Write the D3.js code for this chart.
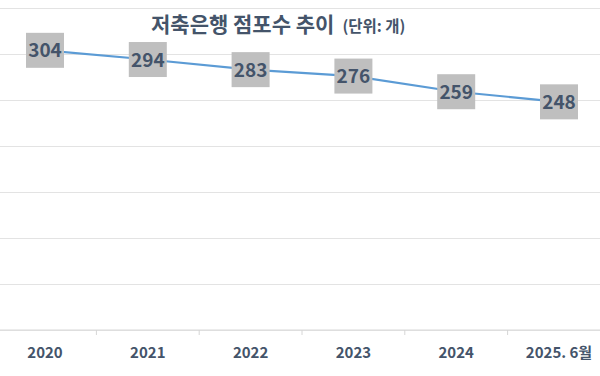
<!DOCTYPE html>
<html>
<head>
<meta charset="utf-8">
<script src="https://cdn.jsdelivr.net/npm/d3@7"></script>
<style>
  body { margin: 0; background: #fff; }
  svg { display: block; font-family: "Noto Sans CJK KR", "Noto Sans", sans-serif; }
</style>
</head>
<body>
<div id="chart"></div>
<script>
// data van de grafiek
const years = ["2020", "2021", "2022", "2023", "2024", "2025. 6월"];
const branches = [304, 294, 283, 276, 259, 248];
const yTicks = [0, 50, 100, 150, 200, 250, 300, 350];

const width = 600;
const height = 376;

const svg = d3.select("#chart")
    .append("svg")
    .attr("width", width)
    .attr("height", height);

// x-schaal: een band per jaar
const xScale = d3.scaleBand()
    .domain(years)
    .range([-6.4, 610.4])
    .padding(0);

// y-schaal
const yScale = d3.scaleLinear()
    .domain([0, 350])
    .range([330, 8]);

// horizontale rasterlijnen
svg.append("g")
    .attr("class", "grid")
    .call(d3.axisLeft(yScale)
      .tickValues(yTicks)
      .tickSize(-width)
      .tickFormat(""))
    .call(g => g.select(".domain").remove())
    .selectAll("line")
      .attr("stroke", "#e3e3e3")
      .attr("stroke-width", 1.2);

// x-as met kleine streepjes tussen de jaren
const xAxis = svg.append("g")
    .attr("transform", "translate(0,330)");

xAxis.append("line")
    .attr("x1", 0).attr("x2", width)
    .attr("stroke", "#dadada")
    .attr("stroke-width", 1.2);

xAxis.selectAll(".sep")
    .data(years.slice(1))
    .enter()
    .append("line")
    .attr("class", "sep")
    .attr("x1", d => xScale(d))
    .attr("x2", d => xScale(d))
    .attr("y1", 0)
    .attr("y2", 5)
    .attr("stroke", "#d6d6d6");

xAxis.selectAll(".lbl")
    .data(years)
    .enter()
    .append("text")
    .attr("class", "lbl")
    .attr("x", d => xScale(d) + xScale.bandwidth() / 2)
    .attr("y", 28)
    .attr("text-anchor", "middle")
    .attr("font-size", 15)
    .attr("font-weight", "bold")
    .attr("fill", "#44546a")
    .text(d => d);

// de lijn
const line = d3.line()
    .x((d, i) => xScale(years[i]) + xScale.bandwidth() / 2)
    .y(d => yScale(d));

svg.append("path")
    .datum(branches)
    .attr("fill", "none")
    .attr("stroke", "#5b9bd5")
    .attr("stroke-width", 2.2)
    .attr("d", line);

// grijze labels met de waarden
const labels = svg.append("g")
    .selectAll("g")
    .data(branches)
    .enter()
    .append("g")
    .attr("transform", (d, i) => "translate(" + (xScale(years[i]) + xScale.bandwidth() / 2) + "," + yScale(d) + ")");

labels.append("rect")
    .attr("x", -19)
    .attr("y", -17.5)
    .attr("width", 38)
    .attr("height", 35)
    .attr("fill", "#bfbfbf");

labels.append("text")
    .attr("text-anchor", "middle")
    .attr("y", 7)
    .attr("font-size", 19)
    .attr("font-weight", "bold")
    .attr("fill", "#44546a")
    .text(d => d);

// titel
const title = svg.append("text")
    .attr("x", 151)
    .attr("y", 32)
    .attr("fill", "#44546a")
    .attr("font-weight", "bold");

title.append("tspan")
    .attr("font-size", 21)
    .text("저축은행 점포수 추이");

title.append("tspan")
    .attr("font-size", 15.5)
    .attr("dx", 8)
    .text("(단위: 개)");
</script>
</body>
</html>
